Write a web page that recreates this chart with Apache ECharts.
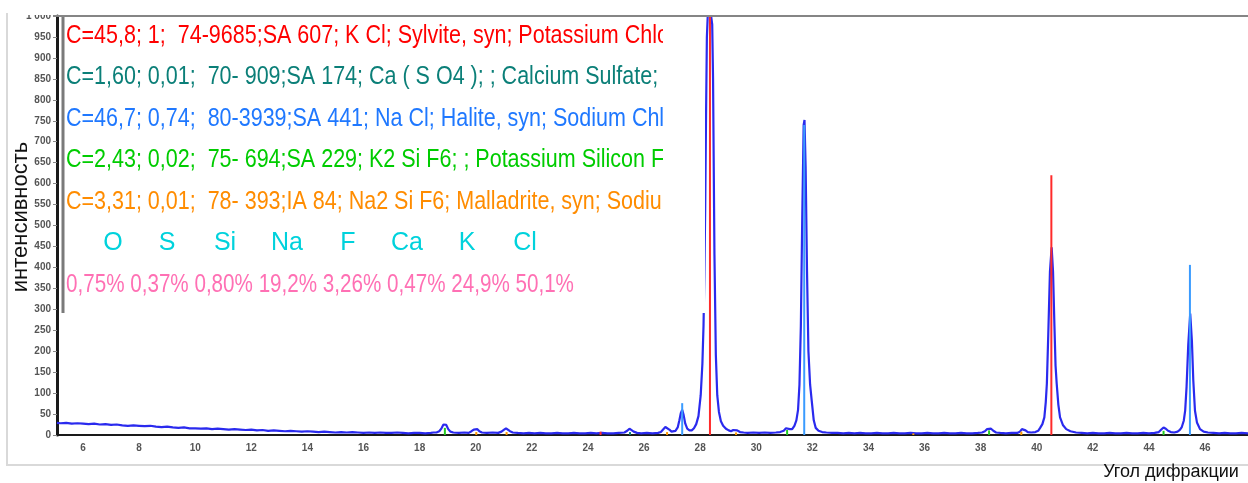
<!DOCTYPE html>
<html>
<head>
<meta charset="utf-8">
<title>Дифрактограмма</title>
<script src="https://cdn.jsdelivr.net/npm/echarts@6/dist/echarts.min.js"></script>
<style>
  html, body { margin: 0; padding: 0; background: #ffffff; }
  #chart { width: 1248px; height: 483px; }
</style>
</head>
<body>
<div id="chart"></div>
<script>
// Measured scan: [2θ, counts], split by angular region
const scanLow = [
  [5.07,29],[5.2,28],[5.4,29],[5.6,27],[5.8,28],[6.0,27],[6.2,26],[6.4,27],[6.6,25],[6.8,26],
  [7.0,24],[7.2,25],[7.4,23],[7.6,22],[7.8,23],[8.0,22],[8.2,21],[8.4,22],[8.6,20],[8.8,19],
  [9.0,20],[9.2,18],[9.4,17],[9.6,18],[9.8,16],[10.0,16],[10.2,15],[10.4,16],[10.6,14],[10.8,15],
  [11.0,14],[11.2,13],[11.4,14],[11.6,13],[11.8,12],[12.0,13],[12.2,11],[12.4,12],[12.6,10],[12.8,11],
  [13.0,10],[13.2,9],[13.4,10],[13.6,9],[13.8,8],[14.0,9],[14.2,8],[14.4,7],[14.6,8],[14.8,7],
  [15.0,6],[15.2,7],[15.4,6],[15.6,7],[15.8,6],[16.0,5],[16.2,6],[16.4,5],[16.6,6],[16.8,5],
  [17.0,5],[17.2,6],[17.4,5],[17.6,4],[17.8,5],[18.0,5],[18.2,4],[18.4,5],[18.5,6]
];
const scanMid = [
  [18.6,6],[18.7,9],[18.78,16],[18.85,25],[18.9,29],[18.95,24],[19.02,14],[19.1,8],[19.2,6],[19.4,5],
  [19.6,6],[19.75,5],[19.85,9],[19.93,13],[20.0,16],[20.06,14],[20.13,9],[20.22,6],[20.4,5],[20.6,6],
  [20.8,5],[20.92,8],[21.0,12],[21.08,16],[21.15,14],[21.22,9],[21.32,6],[21.5,5],[21.7,4],[21.9,5],
  [22.1,4],[22.3,5],[22.5,4],[22.7,4],[22.9,5],[23.1,4],[23.3,4],[23.5,5],[23.7,4],[23.9,4],
  [24.1,5],[24.3,4],[24.5,5],[24.7,4],[24.9,4],[25.1,5],[25.3,6],[25.4,10],[25.48,15],[25.55,13],
  [25.63,8],[25.75,5],[25.9,4],[26.1,5],[26.3,4],[26.5,5],[26.6,7],[26.68,13],[26.76,19],[26.82,20],
  [26.9,13],[26.98,8],[27.05,7]
];
// the strongest KCl reflection saturates the counter scale at 1000
const scanKcl = [
  [27.12,10],[27.2,18],[27.26,35],[27.31,52],[27.36,60],[27.41,48],[27.47,27],[27.54,15],[27.62,11],[27.7,11],
  [27.78,16],[27.86,26],[27.94,45],[28.02,95],[28.08,170],[28.12,260],[28.15,380],[28.18,540],[28.21,760],[28.24,950],
  [28.27,1000],[28.33,1000],[28.39,1000],[28.43,980],[28.46,850],[28.51,430],[28.56,190],[28.61,95],[28.67,55],[28.74,33],
  [28.82,22],[28.92,15],[29.02,11],[29.1,9],[29.18,12],[29.25,13],[29.32,11],[29.42,7],[29.55,6]
];
const scanNacl = [
  [29.7,5],[29.9,6],[30.1,5],[30.3,6],[30.5,5],[30.7,6],[30.85,7],[30.98,10],[31.06,16],[31.12,19],
  [31.2,14],[31.28,14],[31.36,22],[31.43,35],[31.49,60],[31.54,120],[31.59,260],[31.64,520],[31.69,740],[31.72,752],
  [31.76,640],[31.81,390],[31.86,200],[31.92,120],[31.98,80],[32.05,35],[32.12,17],[32.22,10],[32.35,7],[32.5,6],
  [32.7,5],[32.9,5]
];
const scanHigh = [
  [33.1,4],[33.3,5],[33.5,4],[33.7,5],[33.9,4],[34.1,4],[34.3,5],[34.5,4],[34.7,4],[34.9,5],
  [35.1,4],[35.3,4],[35.5,5],[35.7,4],[35.9,4],[36.1,5],[36.3,4],[36.5,4],[36.7,5],[36.9,4],
  [37.1,4],[37.3,5],[37.5,4],[37.7,4],[37.9,5],[38.05,6],[38.15,9],[38.23,14],[38.3,17],[38.37,15],
  [38.45,10],[38.55,6],[38.7,5],[38.9,4],[39.1,5],[39.3,5],[39.4,8],[39.47,14],[39.53,15],[39.6,11],
  [39.68,7],[39.8,6],[39.95,7],[40.05,10],[40.12,17],[40.2,26],[40.27,42],[40.32,78],[40.36,123],[40.41,240],
  [40.47,390],[40.53,448],[40.58,390],[40.63,260],[40.67,165],[40.71,123],[40.77,72],[40.83,42],[40.93,24],[41.05,14],
  [41.2,9],[41.4,6],[41.6,5],[41.8,4],[42.0,5],[42.2,4],[42.4,4],[42.6,5],[42.8,4],[43.0,4],
  [43.2,5],[43.4,4],[43.6,4],[43.8,5],[44.0,4],[44.2,5],[44.35,7],[44.44,13],[44.52,18],[44.6,15],
  [44.68,10],[44.78,7],[44.9,6],[45.02,8],[45.1,12],[45.17,19],[45.24,34],[45.29,58],[45.34,115],[45.4,215],
  [45.47,290],[45.53,225],[45.58,130],[45.64,58],[45.71,30],[45.82,14],[45.95,8],[46.1,6],[46.3,5],[46.5,4],
  [46.7,5],[46.9,4],[47.1,4],[47.3,5],[47.53,4]
];

// Reference patterns of identified phases: [2θ, intensity]
const kclLines    = [[24.45, 8], [28.35, 1000], [40.52, 620]];
const caso4Lines  = [[25.5, 7]];
const naclLines   = [[27.36, 76], [31.71, 740], [45.46, 406]];
const k2sif6Lines = [[18.9, 17], [31.1, 12], [38.3, 11], [44.52, 10]];
const na2sif6Lines = [[20.02, 7], [21.1, 7], [26.82, 7], [29.28, 6], [35.6, 4], [39.45, 8]];

// Phase card texts
const phaseTexts = [
  'C=45,8; 1;  74-9685;SA 607; K Cl; Sylvite, syn; Potassium Chloride',
  'C=1,60; 0,01;  70- 909;SA 174; Ca ( S O4 ); ; Calcium Sulfate; Anhydrite',
  'C=46,7; 0,74;  80-3939;SA 441; Na Cl; Halite, syn; Sodium Chloride',
  'C=2,43; 0,02;  75- 694;SA 229; K2 Si F6; ; Potassium Silicon Fluoride',
  'C=3,31; 0,01;  78- 393;IA 84; Na2 Si F6; Malladrite, syn; Sodium Silicon Fluoride'
];
const phaseColors = ['#ff0000', '#0b7f78', '#1f78ff', '#00cc00', '#ff8c00'];
const elementNames  = ['O', 'S', 'Si', 'Na', 'F', 'Ca', 'K', 'Cl'];
const elementShares = ['0,75%', '0,37%', '0,80%', '19,2%', '3,26%', '0,47%', '24,9%', '50,1%'];

const yAxisTitle = 'интенсивность';
const xAxisTitle = 'Угол дифракции';

const scan = [].concat(scanLow, scanMid, scanKcl, scanNacl, scanHigh);

const chart = echarts.init(document.getElementById('chart'), null, { renderer: 'canvas' });

function stickSeries(name, data, color) {
  return {
    name: name,
    type: 'custom',
    clip: true,
    z: 5,
    data: data,
    renderItem: function (params, api) {
      const x = api.value(0);
      const p0 = api.coord([x, 0]);
      const p1 = api.coord([x, api.value(1)]);
      return {
        type: 'line',
        shape: { x1: p0[0], y1: p0[1], x2: p1[0], y2: p1[1] },
        style: { stroke: color, lineWidth: 2 }
      };
    }
  };
}

// Card layout
const cardLeft = 66, cardRight = 663, cardTop = 16, cardBottom = 313;
const rowY0 = 36, rowStep = 41.5;
const textScale = 0.86;
const shareScale = 0.825;
const elementX = [113, 167, 225, 287, 348, 407, 467, 525];
const cardFont = '25px "Liberation Sans", Arial, sans-serif';

const cardChildren = [];
phaseTexts.forEach(function (t, i) {
  cardChildren.push({
    type: 'text', z: 101,
    x: 0, y: rowY0 + i * rowStep,
    style: {
      text: t, fill: phaseColors[i], font: cardFont,
      verticalAlign: 'middle', align: 'left',
      width: (705 - cardLeft) / textScale, overflow: 'truncate', ellipsis: ''
    }
  });
});

const graphics = [
  // outer frame
  { type: 'polyline', z: 100, shape: { points: [[7, 13], [7, 465], [1248, 465]] },
    style: { stroke: '#d9d9d9', lineWidth: 2, fill: null } },
  // card background
  { type: 'rect', z: 100, shape: { x: 59, y: cardTop, width: cardRight - 59, height: cardBottom - cardTop },
    style: { fill: '#ffffff' } },
  { type: 'group', z: 101, x: cardLeft, y: 0, scaleX: textScale, children: cardChildren },
  // right edge of the card hides overflowing text
  { type: 'rect', z: 102, shape: { x: cardRight, y: 18, width: 42, height: cardBottom - 18 },
    style: { fill: '#ffffff' } },
  // card left border
  { type: 'line', z: 103, shape: { x1: 63, y1: cardTop, x2: 63, y2: cardBottom },
    style: { stroke: '#7a7a7a', lineWidth: 3 } },
  // plot top border
  { type: 'line', z: 103, shape: { x1: 53, y1: 16, x2: 1248, y2: 16 },
    style: { stroke: '#858585', lineWidth: 2 } },
  // area above the plot
  { type: 'rect', z: 104, shape: { x: 9, y: 0, width: 46, height: 15 }, style: { fill: '#ffffff' } },
  // axis titles
  { type: 'text', z: 100, x: 21, y: 217, rotation: Math.PI / 2,
    style: { text: yAxisTitle, fill: '#111', font: '22px "Liberation Sans", Arial, sans-serif',
      align: 'center', verticalAlign: 'middle' } },
  { type: 'text', z: 100, x: 1171, y: 472,
    style: { text: xAxisTitle, fill: '#111', font: '18px "Liberation Sans", Arial, sans-serif',
      align: 'center', verticalAlign: 'middle' } }
];

elementNames.forEach(function (n, i) {
  graphics.push({ type: 'text', z: 101, x: elementX[i], y: rowY0 + 5 * rowStep,
    style: { text: n, fill: '#00d2dc', font: cardFont, align: 'center', verticalAlign: 'middle' } });
});
graphics.push({ type: 'group', z: 101, x: cardLeft, y: 0, scaleX: shareScale, children: [{
  type: 'text', z: 101, x: 0, y: rowY0 + 6 * rowStep,
  style: { text: elementShares.join(' '), fill: '#ff70b4', font: cardFont,
    align: 'left', verticalAlign: 'middle' }
}] });

chart.setOption({
  animation: false,
  backgroundColor: '#ffffff',
  grid: { left: 57, right: 0, top: 16, bottom: 48, containLabel: false },
  xAxis: {
    type: 'value', min: 5.073, max: 47.53,
    splitNumber: 21, minInterval: 2, maxInterval: 2,
    axisLine: { show: true, onZero: false, lineStyle: { color: '#1a1a1a', width: 2 } },
    axisTick: { show: false },
    splitLine: { show: false },
    axisLabel: {
      showMinLabel: false, showMaxLabel: false, margin: 8,
      color: '#555', fontSize: 10, fontWeight: 'bold', fontFamily: 'Arial, "Liberation Sans", sans-serif',
      formatter: function (v) { return Math.abs(v - Math.round(v)) < 1e-6 ? String(Math.round(v)) : ''; }
    }
  },
  yAxis: {
    type: 'value', min: 0, max: 1000, interval: 50,
    axisLine: { show: true, lineStyle: { color: '#1a1a1a', width: 3 } },
    axisTick: { show: true, length: 4, lineStyle: { color: '#888' } },
    splitLine: { show: false },
    axisLabel: {
      margin: 6, color: '#555', fontSize: 10, fontWeight: 'bold',
      fontFamily: 'Arial, "Liberation Sans", sans-serif',
      formatter: function (v) { return v === 1000 ? '1 000' : String(v); }
    }
  },
  series: [
    {
      name: 'scan', type: 'line', data: scan, showSymbol: false, symbol: 'none',
      clip: true, z: 3, sampling: null,
      lineStyle: { color: '#2a2aee', width: 2.2 }
    },
    stickSeries('K Cl', kclLines, '#ff2a2a'),
    stickSeries('Ca SO4', caso4Lines, '#0b7f78'),
    stickSeries('Na Cl', naclLines, '#3a9bff'),
    stickSeries('K2 Si F6', k2sif6Lines, '#22cc22'),
    stickSeries('Na2 Si F6', na2sif6Lines, '#ff9900')
  ],
  graphic: graphics
});
</script>
</body>
</html>
